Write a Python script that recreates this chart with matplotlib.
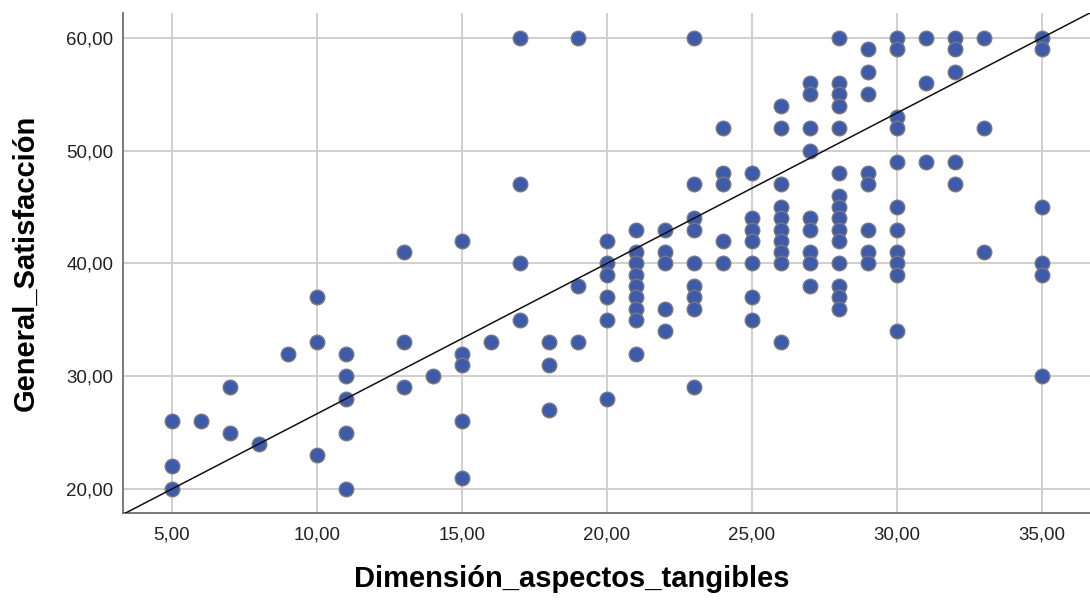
import matplotlib
matplotlib.use("Agg")
import matplotlib.pyplot as plt
from matplotlib.ticker import FuncFormatter

plt.rcParams['font.family'] = ['Liberation Sans', 'DejaVu Sans']

# tangible-aspects score and the satisfaction scores observed at each score
x_levels = [5, 6, 7, 8, 9, 10, 11, 13, 14, 15, 16, 17, 18, 19, 20, 21, 22,
            23, 24, 25, 26, 27, 28, 29, 30, 31, 32, 33, 35]
y_by_level = [
    [26, 22, 20],
    [26],
    [29, 25],
    [24],
    [32],
    [37, 33, 23],
    [32, 30, 28, 25, 20],
    [41, 33, 29],
    [30],
    [42, 32, 31, 26, 21],
    [33],
    [60, 47, 40, 35],
    [33, 31, 27],
    [60, 38, 33],
    [42, 40, 39, 37, 35, 28],
    [43, 41, 40, 39, 38, 37, 36, 35, 32],
    [43, 41, 40, 36, 34],
    [60, 47, 44, 43, 40, 38, 37, 36, 29],
    [52, 48, 47, 42, 40],
    [48, 44, 43, 42, 40, 37, 35],
    [54, 52, 47, 45, 44, 43, 42, 41, 40, 33],
    [56, 55, 52, 50, 44, 43, 41, 40, 38],
    [60, 56, 55, 54, 52, 48, 46, 45, 44, 43, 42, 40, 38, 37, 36],
    [59, 57, 55, 48, 47, 43, 41, 40],
    [60, 59, 53, 52, 49, 45, 43, 41, 40, 39, 34],
    [60, 56, 49],
    [60, 59, 57, 49, 47],
    [60, 52, 41],
    [60, 59, 45, 40, 39, 30],
]

# linear fit line (total sample)
fit_intercept = 13.333
fit_slope = 1.3333

x_ticks = [5, 10, 15, 20, 25, 30, 35]
y_ticks = [20, 30, 40, 50, 60]

xs = [x for x, ys in zip(x_levels, y_by_level) for _ in ys]
ys = [y for vals in y_by_level for y in vals]

fig = plt.figure(figsize=(10.9, 6), dpi=100)
ax = fig.add_axes([0.1128, 0.145, 0.8872, 0.8333])

xlim = (3.31, 36.66)
ylim = (17.87, 62.2)

ax.scatter(xs, ys, s=110, color='#3e5aab', edgecolor='#7a7a7a',
           linewidth=1.0, zorder=3)
ax.plot(xlim, [fit_intercept + fit_slope * v for v in xlim],
        color='#111111', lw=1.1, zorder=4)

ax.set_xlim(*xlim)
ax.set_ylim(*ylim)
ax.set_xticks(x_ticks)
ax.set_yticks(y_ticks)

comma = FuncFormatter(lambda v, p: '{:.2f}'.format(v).replace('.', ','))
ax.xaxis.set_major_formatter(comma)
ax.yaxis.set_major_formatter(comma)

ax.grid(True, color='#cccccc', lw=1.3)
ax.set_axisbelow(True)
ax.tick_params(length=0, labelsize=13.5, labelcolor='#222222')
ax.tick_params(axis='y', pad=7)
ax.tick_params(axis='x', pad=10)

for side in ('top', 'right'):
    ax.spines[side].set_visible(False)
for side in ('left', 'bottom'):
    ax.spines[side].set_color('#6e6e6e')
    ax.spines[side].set_linewidth(1.3)

ax.set_xlabel('Dimensión_aspectos_tangibles', fontsize=21, fontweight='bold',
              labelpad=15)
ax.xaxis.label.set_x(0.464)
ax.set_ylabel('General_Satisfacción', fontsize=21, fontweight='bold',
              labelpad=19)

fig.savefig('out.png', dpi=100)
